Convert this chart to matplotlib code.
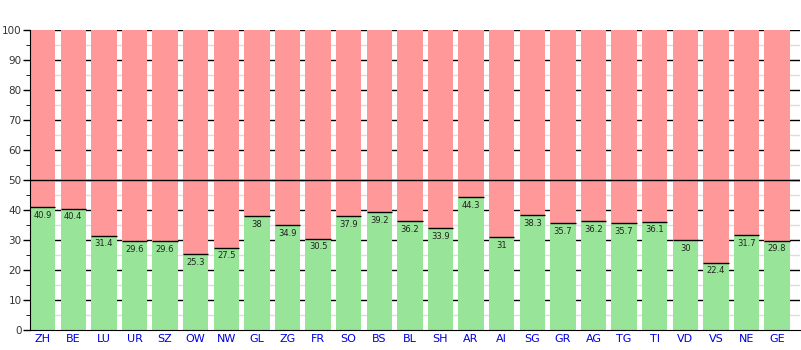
import numpy as np
import matplotlib.pyplot as plt

cantons = ["ZH", "BE", "LU", "UR", "SZ", "OW", "NW", "GL", "ZG", "FR", "SO", "BS", "BL",
           "SH", "AR", "AI", "SG", "GR", "AG", "TG", "TI", "VD", "VS", "NE", "GE"]
yes = [40.9, 40.4, 31.4, 29.6, 29.6, 25.3, 27.5, 38, 34.9, 30.5, 37.9, 39.2, 36.2,
       33.9, 44.3, 31, 38.3, 35.7, 36.2, 35.7, 36.1, 30, 22.4, 31.7, 29.8]
no = [100 - v for v in yes]

green = "#98e498"
red = "#ff9999"

fig = plt.figure(figsize=(8.01, 3.5), dpi=100)
ax = fig.add_axes([30 / 801, 20 / 350, 770 / 801, 300 / 350])

x = np.arange(len(cantons))
w = 0.83

# grid behind bars
for y in range(10, 101, 10):
    ax.axhline(y, color="black", lw=1, zorder=0)
for y in range(5, 100, 10):
    ax.axhline(y, color="#dddddd", lw=1, zorder=0)

ax.bar(x, yes, width=w, color=green, zorder=2)
ax.bar(x, no, width=w, bottom=yes, color=red, zorder=2)
ax.hlines(yes, x - w / 2, x + w / 2, color="black", lw=1, zorder=3)

for xi, v in zip(x, yes):
    ax.text(xi, v - 1.2, f"{v:g}", ha="center", va="top", fontsize=6, color="#222222", zorder=4)

ax.axhline(50, color="black", lw=1, zorder=4)

ax.set_xlim(-w / 2, 24.75)
ax.set_ylim(0, 100)
ax.set_yticks(range(0, 101, 10))
ax.set_yticks(range(5, 100, 10), minor=True)
ax.set_xticks(x)
ax.set_xticklabels(cantons, color="#0000dd", fontsize=8)
ax.tick_params(axis="x", length=0, pad=3)
ax.tick_params(axis="y", labelsize=7.5, labelcolor="#333333", length=5, width=1, pad=1)
ax.tick_params(axis="y", which="minor", length=3)

for s in ["top", "right"]:
    ax.spines[s].set_visible(False)
ax.spines["left"].set_zorder(5)
ax.spines["bottom"].set_zorder(5)

fig.savefig("out.png", dpi=100)
